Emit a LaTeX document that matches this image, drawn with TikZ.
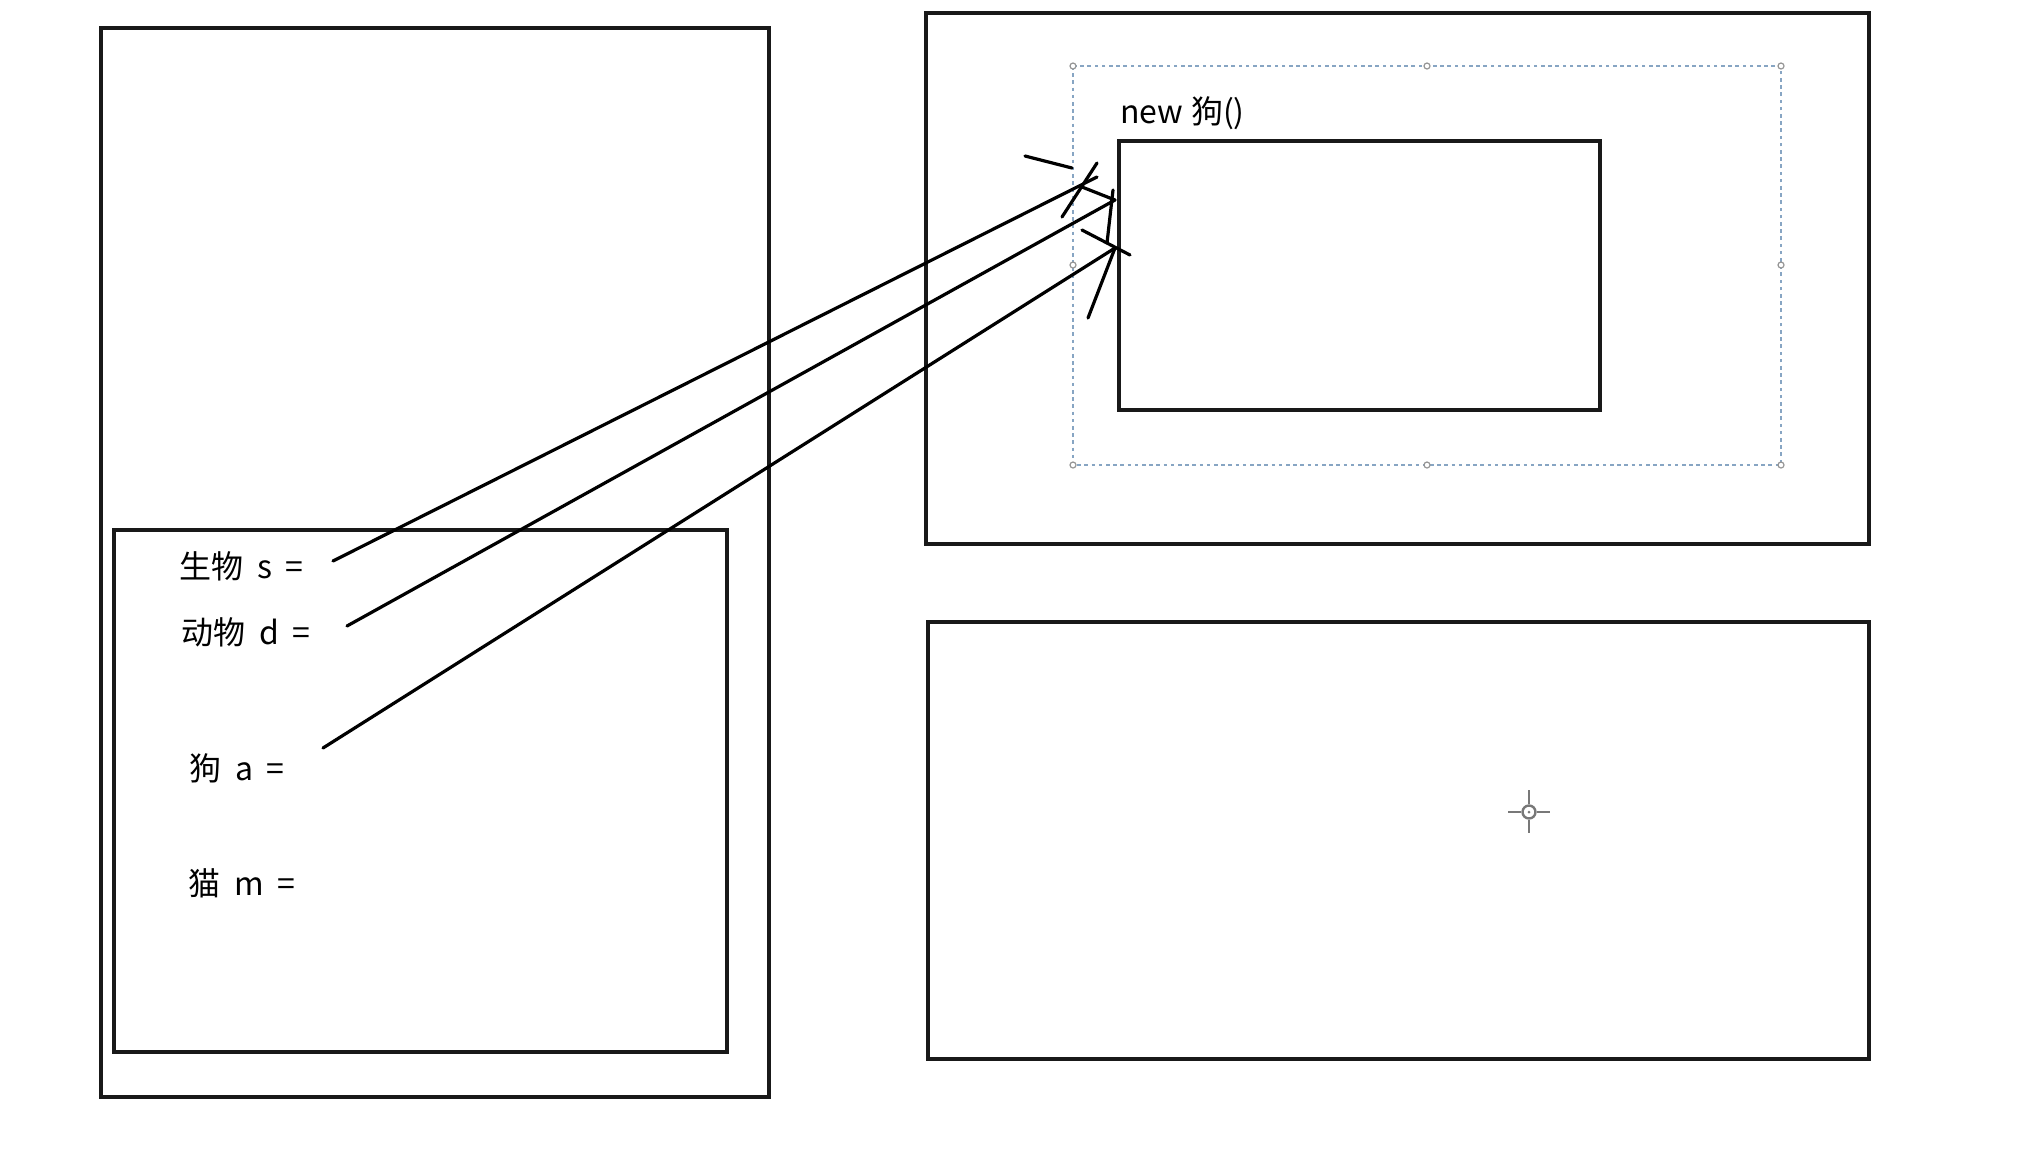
\documentclass[tikz,border=0pt]{standalone}
\usepackage{fontspec}
\usetikzlibrary{calc}
\setmainfont{Noto Sans CJK SC}[WordSpace=1.9]
\definecolor{selblue}{RGB}{135,165,195}
\definecolor{handlegray}{RGB}{150,150,150}
\definecolor{crossgray}{RGB}{120,120,120}
\begin{document}
\begin{tikzpicture}[x=0.5pt,y=-0.5pt,
  boxline/.style={draw=black!90,line width=1.7pt},
  stroke/.style={draw=black,line width=1.6pt,line cap=round},
  lbl/.style={anchor=west,inner sep=0pt,font=\fontsize{16}{19}\selectfont},
  sel/.style={draw=selblue,line width=0.8pt,dash pattern=on 1.8pt off 1.8pt},
  handle/.style={draw=handlegray,fill=white,line width=0.6pt,circle,inner sep=0pt,minimum size=3pt}]
\useasboundingbox (0,0) rectangle (2030,1148);
% boxes
\draw[boxline] (101,28) rectangle (769,1097);
\draw[boxline] (114,530) rectangle (727,1052);
\draw[boxline] (926,13) rectangle (1869,544);
\draw[boxline] (928,622) rectangle (1869,1059);
% selection frame
\draw[sel] (1073,66) rectangle (1781,465);
\foreach \hx/\hy [count=\i] in {1073/66,1427/66,1781/66,1073/265,1781/265,1073/465,1427/465,1781/465}
  \node[handle] (h\i) at (\hx,\hy) {};
% object box
\draw[boxline] (1119,141) rectangle (1600,410);
\node[lbl] (newdog) at (1120,113) {new\hspace{0.24em}狗()};
% labels
\node[lbl] (ls) at (179,566) {生物 s =};
\node[lbl] (ld) at (181,632) {动物 d =};
\node[lbl] (la) at (189,768) {狗 a =};
\node[lbl] (lm) at (188,883) {猫 m =};
% stroke points
\coordinate (s0) at (333,561);
\coordinate (s1) at (1097,177);
\coordinate (d0) at (347,626);
\coordinate (d1) at (1115,200);
\coordinate (a0) at (323,748);
\coordinate (a1) at (1115,248);
\draw[stroke] (s0) -- (s1);
\draw[stroke] (d0) -- (d1);
\draw[stroke] (a0) -- (a1);
% hand-drawn arrow heads
\coordinate (p1) at (1025,156);
\coordinate (p2) at (1072,168);
\coordinate (p3) at (1097,163);
\coordinate (p4) at (1062,217);
\coordinate (p5) at (1082,187);
\coordinate (p6) at (1113,190);
\coordinate (p7) at (1107,243);
\coordinate (p8) at (1082,230);
\coordinate (p9) at (1130,255);
\coordinate (p10) at (1088,318);
\draw[stroke] (p1) -- (p2);
\draw[stroke] (p3) -- (p4);
\draw[stroke] (p5) -- (d1);
\draw[stroke] (p6) -- (p7);
\draw[stroke] (p8) -- (p9);
\draw[stroke] (a1) -- (p10);
% crosshair
\coordinate (cc) at (1529,812);
\draw[crossgray,line width=1.4pt] ($(cc)+(-21,0)$) -- ($(cc)+(-8,0)$) ($(cc)+(8,0)$) -- ($(cc)+(21,0)$)
  ($(cc)+(0,-22)$) -- ($(cc)+(0,-8)$) ($(cc)+(0,8)$) -- ($(cc)+(0,21)$);
\draw[crossgray,line width=1.2pt] (cc) circle[radius=6.5];
\fill[crossgray] (cc) circle[radius=1.5];
\end{tikzpicture}
\end{document}
